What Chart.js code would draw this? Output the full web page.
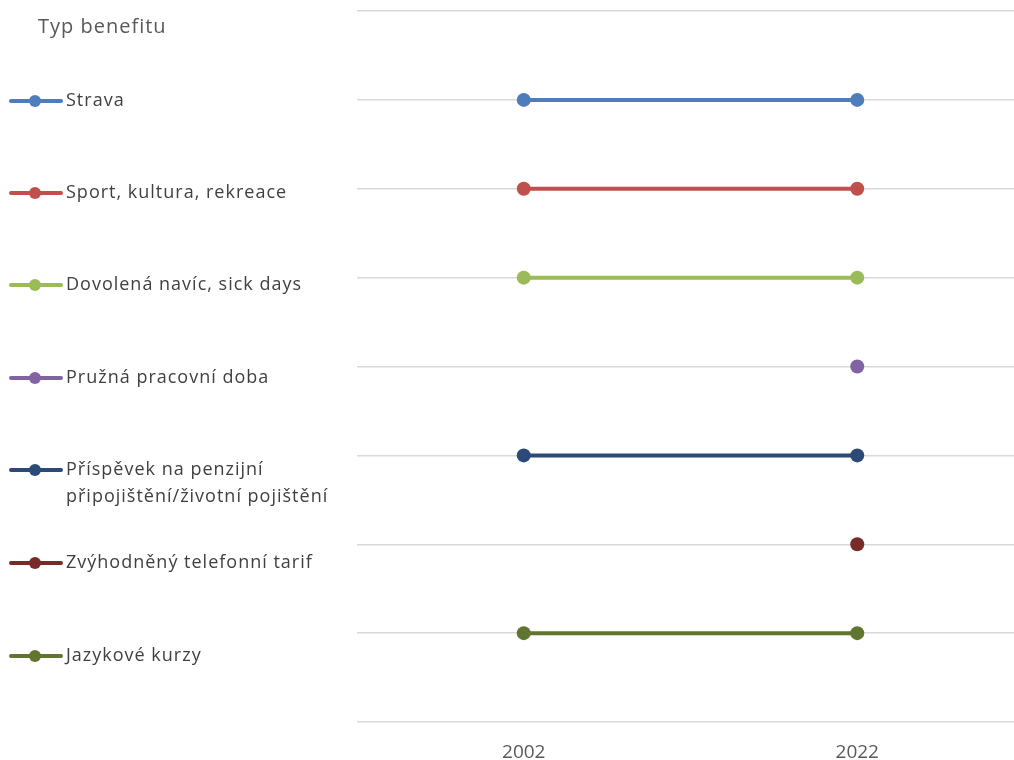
<!DOCTYPE html>
<html>
<head>
<meta charset="utf-8">
<script src="https://cdn.jsdelivr.net/npm/chart.js@4/dist/chart.umd.min.js"></script>
<style>
  html, body { margin: 0; padding: 0; background: #fff; }
  #wrap { width: 1014px; height: 760px; }
</style>
</head>
<body>
<div id="wrap"><canvas id="chart" width="1014" height="760"></canvas></div>
<script>
const legendTitle = 'Typ benefitu';
const years = [2002, 2022];

const seriesNames = [
    'Strava',
    'Sport, kultura, rekreace',
    'Dovolená navíc, sick days',
    'Pružná pracovní doba',
    ['Příspěvek na penzijní', 'připojištění/životní pojištění'],
    'Zvýhodněný telefonní tarif',
    'Jazykové kurzy'
];

// y level of each row (8 = top gridline, 0 = bottom), null = no point for that year
const strava = [7, 7];
const sport = [6, 6];
const dovolena = [5, 5];
const pruzna = [null, 4];
const prispevek = [3, 3];
const telefon = [null, 2];
const jazyky = [1, 1];

const seriesValues = [strava, sport, dovolena, pruzna, prispevek, telefon, jazyky];

const seriesColors = ['#4f7dbb', '#c0504d', '#9bbb59', '#8064a2', '#2c4a78', '#772c2a', '#5f7530'];

const legendRowsY = [101, 193, 285, 378, 470, 563, 656];

const fontFamily = '"Open Sans", Lato, sans-serif';

const datasets = seriesValues.map((vals, i) => ({
    label: Array.isArray(seriesNames[i]) ? seriesNames[i].join(' ') : seriesNames[i],
    data: years.map((yr, j) => ({ x: yr, y: vals[j] })),
    borderColor: seriesColors[i],
    backgroundColor: seriesColors[i],
    borderWidth: 4,
    pointRadius: 7,
    pointBorderWidth: 0,
    pointHoverRadius: 7,
    spanGaps: false
}));

// left side legend, drawn straight on the canvas
const sideLegend = {
    id: 'sideLegend',
    afterDraw(chart) {
        const ctx = chart.ctx;
        ctx.save();
        ctx.textBaseline = 'middle';
        ctx.textAlign = 'left';
        ctx.fillStyle = '#595959';
        ctx.letterSpacing = '1px';
        ctx.font = '20px ' + fontFamily;
        ctx.fillText(legendTitle, 38, 27);

        ctx.font = '18px ' + fontFamily;
        seriesNames.forEach((name, i) => {
            const y = legendRowsY[i];
            ctx.strokeStyle = seriesColors[i];
            ctx.lineWidth = 4;
            ctx.lineCap = 'round';
            ctx.beginPath();
            ctx.moveTo(11, y);
            ctx.lineTo(61, y);
            ctx.stroke();
            ctx.fillStyle = seriesColors[i];
            ctx.beginPath();
            ctx.arc(35, y, 6, 0, Math.PI * 2);
            ctx.fill();

            ctx.fillStyle = '#404040';
            const lines = Array.isArray(name) ? name : [name];
            lines.forEach((ln, k) => ctx.fillText(ln, 66, y + k * 27));
        });
        ctx.restore();
    }
};

new Chart(document.getElementById('chart'), {
    type: 'line',
    data: { datasets },
    options: {
        responsive: false,
        animation: false,
        layout: { autoPadding: false, padding: { top: 11, left: 0, right: 0, bottom: 0 } },
        plugins: {
            legend: { display: false },
            tooltip: { enabled: false }
        },
        scales: {
            x: {
                type: 'linear',
                min: 1992,
                max: 2031.4,
                afterBuildTicks: (scale) => { scale.ticks = years.map(v => ({ value: v })); },
                afterFit: (scale) => {
                    scale.height = 38;
                    scale.paddingLeft = 0;
                    scale.paddingRight = 0;
                },
                grid: { display: false },
                border: { display: false },
                ticks: {
                    color: '#595959',
                    font: { size: 19, family: fontFamily },
                    padding: 11,
                    callback: (v) => String(v),
                    maxRotation: 0
                }
            },
            y: {
                min: 0,
                max: 8,
                afterFit: (scale) => { scale.width = 357; },
                grid: { color: '#d9d9d9', lineWidth: 1.5, drawTicks: false },
                border: { display: false },
                ticks: { display: false, stepSize: 1 }
            }
        }
    },
    plugins: [sideLegend]
});
</script>
</body>
</html>
